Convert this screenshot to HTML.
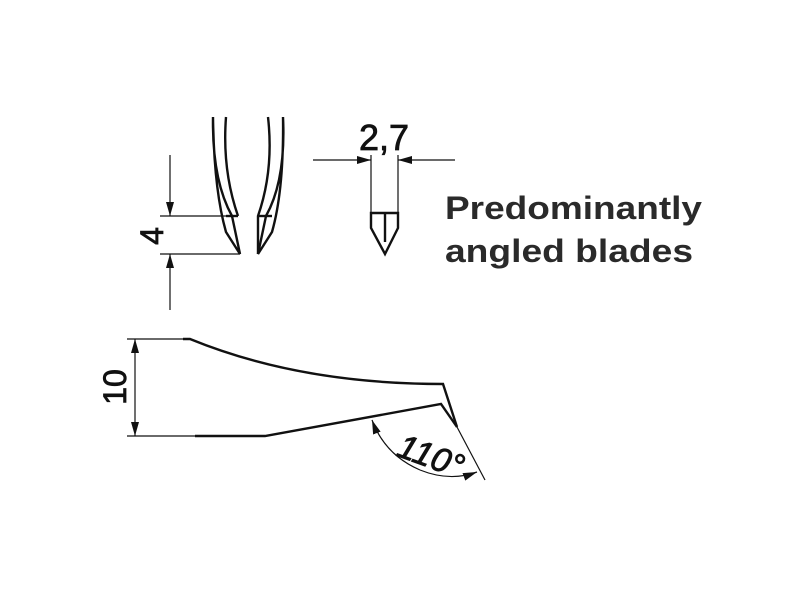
<!DOCTYPE html>
<html><head><style>html,body{margin:0;padding:0;background:#fff}</style></head><body>
<svg width="800" height="600" viewBox="0 0 800 600" xmlns="http://www.w3.org/2000/svg">
<rect width="800" height="600" fill="#fff"/>
<defs>
<marker id="a" markerWidth="14" markerHeight="8" refX="14" refY="4" orient="auto" markerUnits="userSpaceOnUse"><path d="M0,0 L14,4 L0,8 Z" fill="#111"/></marker>
</defs>
<g fill="none" stroke="#111" stroke-width="2.4" stroke-linejoin="miter">
<path d="M213,117 Q212,180 232,216 L240,254 L226,232 Q214,190 213,117"/>
<path d="M226,117 Q222,170 238,216"/>
<path d="M226,216 L238,216"/>
<path d="M283,117 Q286,180 266,216 L258,254 L272,232 Q284,190 283,117"/>
<path d="M268,117 Q274,170 258,216 L258,254"/>
<path d="M258,216 L272,216"/>
<path d="M371,213 L398,213 L398,228 L385,254 L371,228 Z"/>
<path d="M385,213 L385,242"/>
<path d="M183,339 L190,339 Q300,384 443,384 L457,427"/>
<path d="M195,436 L265,436 L441,404 L457,427"/>
</g>
<g fill="none" stroke="#111" stroke-width="1.2">
<path d="M160,216 L238,216 M160,254 L240,254"/>
<path d="M170,155 L170,216" marker-end="url(#a)"/>
<path d="M170,310 L170,254" marker-end="url(#a)"/>
<path d="M371,155 L371,213 M398,155 L398,213"/>
<path d="M313,160 L371,160" marker-end="url(#a)"/>
<path d="M455,160 L398,160" marker-end="url(#a)"/>
<path d="M127,339 L190,339 M127,436 L195,436"/>
<path d="M135,388 L135,339" marker-end="url(#a)"/>
<path d="M135,388 L135,436" marker-end="url(#a)"/>
<path d="M457,427 L485,480"/>
<path d="M420,470 Q385,455 372,420" marker-end="url(#a)"/>
<path d="M420,470 Q450,482 477,472" marker-end="url(#a)"/>
</g>
<g font-family="Liberation Sans, sans-serif" fill="#111" stroke="#111" stroke-width="0.8">
<text x="384" y="150" font-size="36" text-anchor="middle" textLength="50" lengthAdjust="spacingAndGlyphs">2,7</text>
<text transform="translate(163,236) rotate(-90)" font-size="32" text-anchor="middle">4</text>
<text transform="translate(126,387) rotate(-90)" font-size="32" text-anchor="middle">10</text>
<text transform="translate(427,467) rotate(20)" font-size="34" text-anchor="middle" font-style="italic">110°</text>
</g>
<g font-family="Liberation Sans, sans-serif" font-weight="bold" fill="#2a2a2a" font-size="32">
<text x="445" y="219" textLength="257" lengthAdjust="spacingAndGlyphs">Predominantly</text>
<text x="445" y="262" textLength="248" lengthAdjust="spacingAndGlyphs">angled blades</text>
</g>
</svg>
</body></html>
